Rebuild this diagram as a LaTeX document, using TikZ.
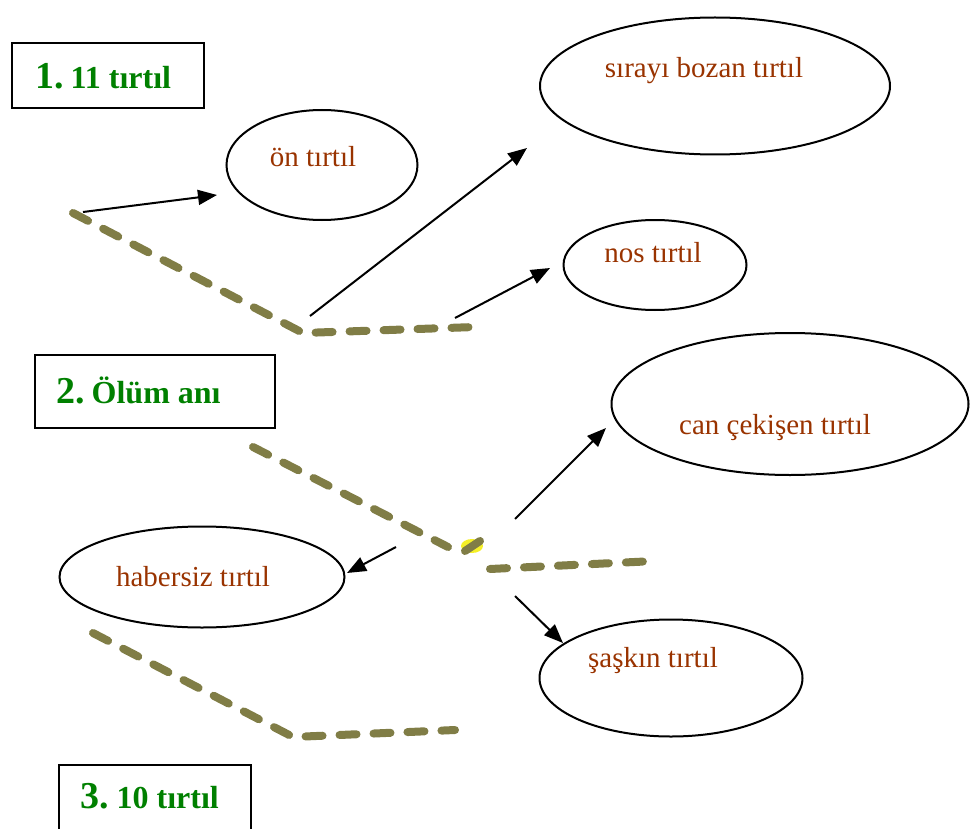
\documentclass[tikz,border=0pt]{standalone}
\usepackage{fontspec}
\setmainfont{Liberation Serif}
\usetikzlibrary{arrows.meta,shapes.geometric}
\definecolor{boxgreen}{RGB}{0,128,0}
\definecolor{txtbrown}{RGB}{153,51,0}
\definecolor{trailcol}{RGB}{128,125,70}
\definecolor{hilite}{RGB}{245,240,40}
\tikzset{
 oval/.style={draw, ellipse, line width=2pt, inner sep=0pt},
 lbl/.style={text=txtbrown, font=\fontsize{29}{31}\selectfont, inner sep=0pt},
 titlebox/.style={draw, line width=2.2pt, inner sep=0pt},
 titletext/.style={text=boxgreen, font=\bfseries\fontsize{32}{35}\selectfont, inner sep=0pt, anchor=base west},
 trail/.style={draw=trailcol, line width=8pt, line cap=round, line join=round, dash pattern=on 17pt off 17pt},
 arr/.style={line width=2pt, -{Triangle[length=19pt,width=15pt]}},
}
\newcommand{\bignum}[1]{{\fontsize{38}{40}\selectfont #1}}
\begin{document}
\begin{tikzpicture}[x=1pt,y=-1pt]
\useasboundingbox (0,0) rectangle (971,829);
\clip (0,0) rectangle (971,829);

% title boxes
\node[titlebox, minimum width=192pt, minimum height=65pt] (b1) at (108,75.5) {};
\node[titletext] (tt1) at (35,89) {\bignum{1.}\hspace{7pt}11 tırtıl};
\node[titlebox, minimum width=240pt, minimum height=73pt] (b2) at (155,391.5) {};
\node[titletext] (tt2) at (56,403) {\bignum{2.}\hspace{7pt}Ölüm anı};
\node[titlebox, minimum width=192pt, minimum height=80pt] (b3) at (155,805) {};
\node[titletext] (tt3) at (80,808) {\bignum{3.}\hspace{8pt}10 tırtıl};

% ellipses
\node[oval, minimum width=191pt, minimum height=110pt] (e1) at (322,165) {};
\node[lbl] (t1) at (313,157) {ön tırtıl};
\node[oval, minimum width=350pt, minimum height=137pt] (e2) at (715,86) {};
\node[lbl] (t2) at (704,71) {sırayı bozan tırtıl};
\node[oval, minimum width=183pt, minimum height=90pt] (e3) at (655,265) {};
\node[lbl] (t3) at (653,253) {nos tırtıl};
\node[oval, minimum width=357pt, minimum height=142pt] (e4) at (790,404) {};
\node[lbl] (t4) at (775,428) {can çekişen tırtıl};
\node[oval, minimum width=285pt, minimum height=101pt] (e5) at (202,577) {};
\node[lbl] (t5) at (193,577) {habersiz tırtıl};
\node[oval, minimum width=263pt, minimum height=117pt] (e6) at (671,678) {};
\node[lbl] (t6) at (653,661) {şaşkın tırtıl};

% caterpillar trails
\draw[trail] (73,213) -- (303,333) -- (475,327);
\draw[trail] (253,447) -- (448,547);
\fill[hilite] (472,546) ellipse [x radius=11pt, y radius=7pt];
\draw[draw=trailcol, line width=8pt, line cap=round] (465,551) -- (480,541);
\draw[trail] (490,569) -- (655,561);
\draw[trail] (93,633) -- (293,737) -- (455,730);

% arrow end points
\coordinate (s1) at (83,212);  \coordinate (h1) at (217,195);
\coordinate (s2) at (310,316); \coordinate (h2) at (527,148);
\coordinate (s3) at (455,318); \coordinate (h3) at (550,268);
\coordinate (s4) at (515,519); \coordinate (h4) at (606,428);
\coordinate (s5) at (396,547); \coordinate (h5) at (347,573);
\coordinate (s6) at (515,596); \coordinate (h6) at (563,643);

\draw[arr] (s1) -- (h1);
\draw[arr] (s2) -- (h2);
\draw[arr] (s3) -- (h3);
\draw[arr] (s4) -- (h4);
\draw[arr] (s5) -- (h5);
\draw[arr] (s6) -- (h6);
\end{tikzpicture}
\end{document}
